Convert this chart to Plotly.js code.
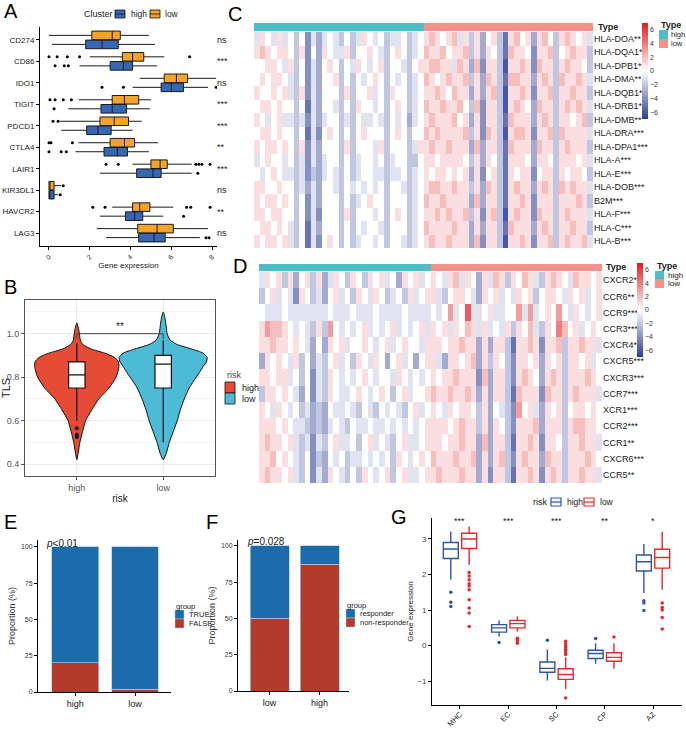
<!DOCTYPE html>
<html><head><meta charset="utf-8">
<script src="https://cdn.plot.ly/plotly-3.0.1.min.js"></script>
<style>html,body{margin:0;padding:0;background:#fff}#chart{width:686px;height:729px}</style>
</head><body><div id="chart"></div><script>
// ---------- Panel A data ----------
const genesA = ['CD274','CD86','IDO1','TIGIT','PDCD1','CTLA4','LAIR1','KIR3DL1','HAVCR2','LAG3'];
const sigA = ['ns','***','ns','***','***','**','***','ns','**','ns'];
const highQ1 = [1.8,3.0,5.5,2.55,1.85,2.7,4.3,0.0,3.75,4.4];
const highMed = [2.6,3.65,6.0,3.1,2.4,3.35,5.1,0.03,4.2,5.15];
const highQ3 = [3.4,4.1,6.6,3.8,3.05,3.85,5.5,0.25,4.6,5.7];
const highLo = [0.15,1.5,4.1,0.95,0.6,1.3,2.5,0.0,2.5,2.8];
const highHi = [5.2,5.3,7.8,4.95,4.1,4.9,7.0,0.45,5.6,7.4];
const highOut = [[],[0.3,0.75,0.95],[2.6,3.65,8.2],[0.25],[],[0.0,0.6,0.85],[7.3],[0.55],[6.6],[7.7,7.85]];
const lowQ1 = [2.1,3.6,5.65,3.1,2.5,3.0,5.0,0.0,4.1,4.35];
const lowMed = [3.1,4.1,6.25,3.7,3.2,3.7,5.45,0.03,4.45,5.3];
const lowQ3 = [3.5,4.65,6.8,4.4,3.9,4.2,5.8,0.25,4.95,6.1];
const lowLo = [0.0,2.0,4.45,1.45,0.55,1.45,4.1,0.0,3.1,2.35];
const lowHi = [4.9,5.65,8.2,5.0,4.55,5.35,7.0,0.6,6.1,7.8];
const lowOut = [[],[0.0,0.4,0.9,1.5,6.9],[],[0.05,0.3,0.7,1.1],[0.2,0.45],[0.0,0.1,1.15],[2.8,3.4,7.2,7.35,7.5,7.9],[0.7],[2.15,2.75,6.75,6.95,7.9],[]];

// ---------- Panel B data ----------
const riskCats = ['high','low'];
const tlsLevelsHigh = [0.42,0.45,0.5,0.55,0.6,0.65,0.7,0.75,0.8,0.84,0.87,0.89,0.91,0.93,0.95,0.97,1.0,1.03,1.05];
const densityHigh = [0,0.03,0.07,0.13,0.2,0.34,0.5,0.73,0.89,0.95,0.95,0.86,0.64,0.32,0.14,0.08,0.06,0.03,0];
const tlsLevelsLow = [0.42,0.45,0.5,0.55,0.6,0.65,0.7,0.75,0.8,0.82,0.85,0.87,0.89,0.91,0.93,0.95,0.97,1.0,1.03,1.06,1.09,1.1];
const densityLow = [0,0.07,0.14,0.23,0.32,0.39,0.48,0.59,0.75,0.82,0.91,0.98,1.0,0.91,0.64,0.32,0.16,0.09,0.07,0.05,0.02,0];
const tlsQ1 = [0.75,0.75];
const tlsMed = [0.81,0.86];
const tlsQ3 = [0.87,0.90];
const tlsLo = [0.6,0.5];
const tlsHi = [0.955,0.97];
const tlsOut = [[0.565,0.535,0.525],[]];

// ---------- Panel C data ----------
const genesC = ['HLA-DOA**','HLA-DQA1**','HLA-DPB1**','HLA-DMA**','HLA-DQB1**','HLA-DRB1**','HLA-DMB**','HLA-DRA***','HLA-DPA1***','HLA-A***','HLA-E***','HLA-DOB***','B2M***','HLA-F***','HLA-C***','HLA-B***'];
const cHigh = [
[-1,1,0,-1,1,-1,0,-2,0,-4,-1,-3,-1,0,-1,-2,0,-2,-1,1,0,-1,0,-2,-1,-1,0,-2,-1,0],
[1,2,1,0,1,1,0,-2,1,-4,0,-3,1,0,-1,-1,1,-2,0,0,1,0,-1,-2,0,1,0,-2,-1,0],
[0,0,1,1,0,-1,1,-2,0,-4,-1,-3,0,1,0,-2,0,-1,1,0,-1,0,1,-2,0,0,-1,-2,0,1],
[0,1,0,1,1,0,-1,-2,0,-4,-1,-3,0,0,1,-2,0,-2,0,-1,0,1,0,-2,0,-1,0,-2,-1,0],
[1,0,0,1,0,1,-1,-2,1,-4,-1,-3,0,0,0,-2,1,-2,0,0,1,-1,0,-2,1,0,0,-2,-1,0],
[0,1,1,0,1,0,0,-2,0,-5,-1,-3,0,0,-1,-2,0,-2,1,0,0,-1,0,-2,0,1,0,-2,-1,0],
[1,0,-1,0,1,-1,-1,-2,-1,-4,-1,-3,-1,0,0,-2,-1,-2,0,-1,-1,0,-1,-2,0,-1,0,-3,-1,0],
[0,1,1,0,1,0,0,-2,0,-5,-1,-4,0,1,0,-2,0,-2,0,1,0,0,0,-2,0,1,0,-2,0,0],
[1,0,1,1,0,1,0,-2,1,-4,-1,-3,0,0,0,-2,1,-2,0,0,0,-1,1,-2,0,0,0,-2,-1,1],
[-1,0,1,0,0,-1,0,-2,-1,-4,-1,-3,-1,0,0,-2,0,-2,-1,0,0,-1,0,-2,-1,0,0,-2,-2,0],
[0,-1,0,1,0,-1,-1,-2,-1,-4,-2,-3,-1,0,-1,-2,0,-2,-1,0,0,-1,-1,-2,-1,-1,0,-2,-1,0],
[1,1,0,0,1,0,0,-2,-1,-3,-1,-3,0,0,-1,-2,0,-1,0,-1,0,-1,0,-2,0,0,-1,-2,-1,0],
[1,0,1,1,0,1,0,-2,0,-4,-1,-3,0,0,0,-2,0,-2,-1,0,1,0,0,-2,0,0,0,-2,-1,0],
[1,1,0,1,1,0,0,-2,0,-4,-1,-4,0,0,0,-2,1,-2,0,0,0,-1,0,-2,0,1,0,-2,-1,0],
[0,1,1,0,1,0,-1,-2,0,-5,-1,-3,0,0,0,-2,0,-2,0,-1,0,0,-1,-2,0,0,0,-2,-1,0],
[1,0,1,1,0,1,-1,-2,0,-5,-1,-4,0,1,0,-2,0,-2,-1,0,0,-1,0,-2,0,0,-1,-2,-1,0]
];
const cLow = [
[1,2,1,0,1,2,-1,1,-2,1,-3,0,1,-2,-5,1,2,0,1,-3,1,2,0,-2,1,2,1,0,1,-1],
[2,1,1,2,0,1,1,2,-2,1,-3,1,0,-2,-5,2,1,1,0,-4,1,1,2,-2,0,1,2,1,1,-2],
[1,2,2,1,1,-1,2,1,-3,2,-4,1,1,-2,-6,1,1,2,1,-4,2,1,1,-2,1,2,1,1,0,-2],
[2,1,0,1,2,1,1,2,-2,1,-3,2,1,-2,-5,2,2,1,1,-3,1,2,1,-2,2,1,1,2,1,-1],
[1,1,2,1,0,2,1,1,-3,1,-3,1,2,-2,-6,1,1,2,1,-4,1,1,2,-2,1,1,2,1,1,-2],
[2,1,1,2,1,1,2,0,-2,2,-4,1,1,-2,-6,1,2,1,0,-3,2,1,1,-2,1,2,1,2,1,-1],
[1,2,1,1,1,2,0,1,-3,1,-4,1,1,-2,-5,2,1,1,1,-3,1,2,1,-2,1,1,0,1,2,-2],
[2,1,2,1,1,1,1,2,-2,1,-4,2,1,-2,-6,1,2,2,1,-4,1,1,2,-2,2,1,1,1,1,-1],
[1,2,1,1,2,1,1,1,-3,2,-3,1,1,-2,-5,2,1,1,1,-3,2,1,1,-2,1,2,1,1,1,-2],
[1,1,0,1,1,1,1,0,-2,1,-3,1,0,-2,-5,1,1,1,0,-3,1,1,0,-2,1,1,1,0,1,-1],
[1,0,1,1,0,1,0,1,-3,1,-4,0,1,-2,-5,1,0,1,1,-4,0,1,1,-2,1,0,1,1,0,-2],
[1,2,2,1,1,2,1,1,-2,1,-3,2,1,-2,-5,1,2,1,1,-3,1,2,1,-2,2,1,2,1,1,-1],
[2,1,1,2,1,1,1,1,-3,2,-3,1,1,-2,-5,1,1,2,1,-4,1,1,1,-2,1,1,1,2,1,-2],
[1,1,2,1,2,1,1,2,-2,1,-4,1,2,-2,-6,1,2,1,1,-4,2,1,1,-2,1,2,1,1,1,-1],
[2,1,1,1,1,2,1,1,-3,1,-3,1,1,-2,-5,2,1,1,1,-3,1,2,1,-2,1,1,2,1,1,-2],
[1,2,1,1,2,1,1,1,-3,2,-4,1,1,-2,-6,1,1,2,1,-4,1,1,2,-2,1,2,1,1,2,-1]
];

// ---------- Panel D data ----------
const genesD = ['CXCR2**','CCR6**','CCR9***','CCR3***','CXCR4*','CXCR5***','CXCR3***','CCR7***','XCR1***','CCR2***','CCR1**','CXCR6***','CCR5**'];
const dHigh = [
[-1,1,0,1,-2,1,-3,0,1,-2,1,-3,-1,1,0,-2,1,0,-2,1,0,1,-1,0,-3,1,0,1,-1,0],
[-2,0,1,-1,0,-1,-4,1,0,-2,-1,-3,0,1,-1,0,-2,1,0,-1,1,0,-2,-1,0,-2,1,-1,0,1],
[0,-1,-1,-1,0,-1,-1,-1,-1,-1,-1,-1,0,-1,-1,-1,0,-1,-1,-1,0,-1,-1,-1,-1,0,-1,-1,-1,-1],
[1,3,2,2,1,0,-1,0,-1,-2,1,-2,3,0,-1,0,-1,0,1,-1,0,-1,0,1,-1,0,-1,0,1,-1],
[1,1,2,1,1,0,1,0,-1,-3,0,-3,1,0,1,-1,0,0,1,0,-1,0,1,-1,0,1,0,0,-1,1],
[-3,1,0,1,0,-1,1,-2,0,-3,-1,-2,0,1,-1,0,-2,1,0,-1,1,0,-3,0,1,-1,0,-3,0,1],
[1,1,0,1,1,-1,0,-2,0,-4,-1,-2,1,0,-1,0,-1,0,1,0,-1,0,0,-1,1,0,-1,0,-1,0],
[-2,1,1,0,1,0,-1,-3,0,-4,-1,-2,1,0,-1,-1,0,1,0,-1,0,1,0,-2,0,1,-1,0,0,1],
[1,0,-1,1,0,-1,0,-2,-1,-3,-2,-3,0,-1,-1,0,-1,-2,0,-1,-2,0,-1,0,-1,-2,0,1,-1,0],
[1,1,1,0,1,0,-1,-1,-2,-3,-2,-3,-1,0,-1,-2,0,-1,-1,0,-1,-1,0,-1,0,-1,0,-1,0,1],
[1,2,1,1,0,1,-1,-2,-1,-4,-1,-2,0,1,-1,-1,0,-2,0,1,-1,0,-1,-2,0,1,-1,-1,0,1],
[1,1,2,0,1,0,-1,-2,0,-4,-2,-3,0,-1,0,-2,-1,-1,0,-1,0,-1,0,-2,1,0,-1,0,1,0],
[1,2,1,1,0,1,-1,-2,0,-4,-1,-3,1,0,-1,-2,0,-2,1,0,-1,0,1,-2,0,1,-1,-1,0,1]
];
const dLow = [
[1,0,-1,1,2,-1,1,0,-3,1,-1,2,1,-2,1,0,2,1,-1,-2,1,2,1,0,-1,2,1,1,0,1],
[1,-1,-2,0,1,1,0,-1,-3,1,0,1,-1,0,-1,1,0,1,-2,0,1,1,0,-1,1,0,1,-1,0,1],
[0,-1,0,3,-1,0,5,-1,-1,0,1,-1,-1,0,0,3,-1,3,-1,0,1,0,3,0,-1,1,0,-1,0,1],
[1,0,1,-1,1,0,2,1,-1,1,-1,0,-1,1,-2,1,0,2,-1,-2,1,0,4,2,0,1,-1,0,1,0],
[1,1,0,1,1,2,1,1,-3,1,-3,1,1,-2,-5,1,1,2,1,-4,1,1,2,-2,1,1,2,1,1,-1],
[1,-1,-3,1,1,0,1,2,-3,1,-2,1,0,-2,-4,1,1,0,1,-3,1,0,1,-2,1,1,0,1,-1,0],
[1,0,1,1,2,1,1,1,-4,2,-3,1,1,-2,-4,1,2,1,0,-3,1,2,1,-2,1,1,1,2,1,0],
[2,1,1,2,1,1,2,1,-3,1,-3,1,1,-2,-5,2,1,1,1,-4,2,1,1,-2,1,2,1,1,1,-1],
[1,0,-1,1,0,1,1,0,-2,1,-3,0,-1,-2,-4,3,0,1,-1,-3,1,0,1,-2,0,1,1,0,1,0],
[1,1,1,0,1,2,1,1,-2,1,-3,1,0,-2,-4,1,1,1,2,-3,1,1,1,-2,1,2,2,1,1,0],
[1,1,0,1,1,2,1,1,-3,2,-3,1,1,-2,-5,1,1,2,1,-4,1,1,0,-2,1,1,2,1,1,-1],
[2,1,1,1,2,1,1,2,-3,1,-3,1,2,-2,-4,1,2,1,1,-3,2,1,1,-2,1,1,1,2,1,0],
[1,2,1,1,1,2,1,1,-3,1,-4,1,1,-2,-5,1,1,2,1,-4,1,2,1,-2,1,1,2,1,1,-1]
];
const nHigh = 30, nLow = 30;

// ---------- Panel E / F data ----------
const catsE = ['high','low'];
const falseE = [20,2];
const trueE = [80,98];
const catsF = ['low','high'];
const nonRespF = [50,87.5];
const respF = [50,12.5];

// ---------- Panel G data ----------
const catsG = ['MHC','EC','SC','CP','AZ'];
const sigG = ['***','***','***','**','*'];
const gHighQ1 = [2.45,0.38,-0.75,-0.36,2.1];
const gHighMed = [2.72,0.5,-0.64,-0.22,2.36];
const gHighQ3 = [2.9,0.59,-0.46,-0.13,2.55];
const gHighLo = [1.85,0.26,-0.98,-0.51,1.48];
const gHighHi = [3.2,0.71,-0.11,0.07,2.86];
const gHighOut = [[1.5,1.22,1.1],[0.09],[0.15],[0.2],[1.26,1.2,0.99]];
const gLowQ1 = [2.73,0.5,-0.95,-0.44,2.18];
const gLowMed = [3.0,0.62,-0.81,-0.33,2.48];
const gLowQ3 = [3.16,0.71,-0.65,-0.2,2.71];
const gLowLo = [2.27,0.4,-1.23,-0.65,1.57];
const gLowHi = [3.35,0.82,-0.33,0.07,3.2];
const gLowOut = [[2.06,1.96,1.85,1.74,1.68,1.57,1.29,1.06,0.92,0.54],[0.21,0.17,0.13,0.1,0.07],[0.12,0.05,0.0,-0.05,-0.1,-0.15,-0.2,-0.25,-1.47],[0.24],[1.2,1.07,1.0,0.79,0.47]];

// ---------- helpers ----------
const W = 686, H = 729;
const X = p => p / W, Y = p => 1 - p / H;
const FONT = 'Liberation Sans, Arial, Helvetica, sans-serif';
const C_HIGH_A = '#3567B2', C_LOW_A = '#F2A32A';
const C_RED_V = '#E64B35', C_BLUE_V = '#4DBBD5';
const C_TEAL = '#4DBEC5', C_SALMON = '#F3918A';
const C_BAR_BLUE = '#1C6BAA', C_BAR_RED = '#B23B2C';
const C_G_HIGH = '#2E56A6', C_G_LOW = '#E42A2F';
const heatScale = [[0,'#2A3C95'],[0.5,'#FFFFFF'],[1,'#E41A1C']];

function flatOut(list, pos) {
  const v = [], p = [];
  list.forEach((a, i) => a.forEach(val => { v.push(val); p.push(pos[i]); }));
  return {v: v, p: p};
}
const traces = [];

// ---------- A ----------
const posHighA = genesA.map((g, i) => i + 0.21);
const posLowA = genesA.map((g, i) => i - 0.21);
function hbox(pos, q1, med, q3, lo, hi, fill) {
  return {type:'box', orientation:'h', y:pos, q1:q1, median:med, q3:q3, lowerfence:lo, upperfence:hi,
    width:0.4, whiskerwidth:0, fillcolor:fill, line:{color:'#1a1a1a', width:1},
    xaxis:'x', yaxis:'y', showlegend:false, hoverinfo:'skip'};
}
traces.push(hbox(posHighA, highQ1, highMed, highQ3, highLo, highHi, C_HIGH_A));
traces.push(hbox(posLowA, lowQ1, lowMed, lowQ3, lowLo, lowHi, C_LOW_A));
[[highOut, posHighA], [lowOut, posLowA]].forEach(([o, p]) => {
  const f = flatOut(o, p);
  traces.push({type:'scatter', mode:'markers', x:f.v, y:f.p, marker:{color:'#000', size:3}, xaxis:'x', yaxis:'y', showlegend:false, hoverinfo:'skip'});
});

// ---------- B ----------
const VW = 0.51;
function violin(levels, dens, center, color) {
  const xs = [], ys = [];
  levels.forEach((l, i) => { xs.push(center + dens[i] * VW); ys.push(l); });
  for (let i = levels.length - 1; i >= 0; i--) { xs.push(center - dens[i] * VW); ys.push(levels[i]); }
  return {type:'scatter', mode:'lines', x:xs, y:ys, fill:'toself', fillcolor:color,
    line:{color:'#111', width:1, shape:'spline', smoothing:0.6}, xaxis:'x2', yaxis:'y2', showlegend:false, hoverinfo:'skip'};
}
traces.push(violin(tlsLevelsHigh, densityHigh, 1, C_RED_V));
traces.push(violin(tlsLevelsLow, densityLow, 2, C_BLUE_V));
traces.push({type:'box', x:[1,2], q1:tlsQ1, median:tlsMed, q3:tlsQ3, lowerfence:tlsLo, upperfence:tlsHi,
  width:0.19, whiskerwidth:0, fillcolor:'#FFFFFF', line:{color:'#111', width:1.2}, xaxis:'x10', yaxis:'y10', showlegend:false, hoverinfo:'skip'});
(function(){ const f = flatOut(tlsOut, [1,2]);
  traces.push({type:'scatter', mode:'markers', x:f.p, y:f.v, marker:{color:'#111', size:4}, xaxis:'x10', yaxis:'y10', showlegend:false, hoverinfo:'skip'}); })();

// ---------- C / D heatmaps ----------
const typeRow = Array(nHigh).fill(0).concat(Array(nLow).fill(1));
const cols = typeRow.map((t, i) => i);
const typeScale = [[0,C_TEAL],[0.5,C_TEAL],[0.5,C_SALMON],[1,C_SALMON]];
function heat(rowsHigh, rowsLow, labels, xa, ya, cbx, cby, cblen) {
  return {type:'heatmap', z:rowsHigh.map((r, i) => r.concat(rowsLow[i])), x:cols, y:labels,
    colorscale:heatScale, zmin:-7, zmax:7, xaxis:xa, yaxis:ya, hoverinfo:'skip',
    colorbar:{x:X(cbx), xanchor:'left', y:Y(cby), yanchor:'top', len:cblen, lenmode:'pixels', thickness:6, thicknessmode:'pixels',
      xpad:0, ypad:0, outlinewidth:0, tickvals:[-6,-4,-2,0,2,4,6], ticks:'', tickfont:{size:7, color:'#333'}}};
}
function typeBar(xa, ya) {
  return {type:'heatmap', z:[typeRow], x:cols, y:['Type'], colorscale:typeScale, zmin:0, zmax:1, showscale:false, xaxis:xa, yaxis:ya, hoverinfo:'skip'};
}
traces.push(typeBar('x3','y3'));
traces.push(heat(cHigh, cLow, genesC, 'x4', 'y4', 642, 23, 96));
traces.push(typeBar('x5','y5'));
traces.push(heat(dHigh, dLow, genesD, 'x6', 'y6', 637, 263, 94));

// ---------- E / F bars ----------
const barLine = {color:'#A9CCE8', width:0.7};
traces.push({type:'bar', x:catsE, y:falseE, width:0.78, marker:{color:C_BAR_RED, line:barLine}, xaxis:'x7', yaxis:'y7', showlegend:false, hoverinfo:'skip'});
traces.push({type:'bar', x:catsE, y:trueE, width:0.78, marker:{color:C_BAR_BLUE, line:barLine}, xaxis:'x7', yaxis:'y7', showlegend:false, hoverinfo:'skip'});
traces.push({type:'bar', x:catsF, y:nonRespF, width:0.78, marker:{color:C_BAR_RED, line:barLine}, xaxis:'x8', yaxis:'y8', showlegend:false, hoverinfo:'skip'});
traces.push({type:'bar', x:catsF, y:respF, width:0.78, marker:{color:C_BAR_BLUE, line:barLine}, xaxis:'x8', yaxis:'y8', showlegend:false, hoverinfo:'skip'});

// ---------- G ----------
const posHighG = catsG.map((c, i) => i - 0.19);
const posLowG = catsG.map((c, i) => i + 0.19);
function vbox(pos, q1, med, q3, lo, hi, color) {
  return {type:'box', x:pos, q1:q1, median:med, q3:q3, lowerfence:lo, upperfence:hi, width:0.31, whiskerwidth:0,
    fillcolor:'rgba(255,255,255,0)', line:{color:color, width:1.4}, xaxis:'x9', yaxis:'y9', showlegend:false, hoverinfo:'skip'};
}
traces.push(vbox(posHighG, gHighQ1, gHighMed, gHighQ3, gHighLo, gHighHi, C_G_HIGH));
traces.push(vbox(posLowG, gLowQ1, gLowMed, gLowQ3, gLowLo, gLowHi, C_G_LOW));
[[gHighOut, posHighG, C_G_HIGH], [gLowOut, posLowG, C_G_LOW]].forEach(([o, p, c]) => {
  const f = flatOut(o, p);
  traces.push({type:'scatter', mode:'markers', x:f.p, y:f.v, marker:{color:c, size:3.5}, xaxis:'x9', yaxis:'y9', showlegend:false, hoverinfo:'skip'});
});

// ---------- layout ----------
function ax(o) {
  return Object.assign({showgrid:false, zeroline:false, showline:true, linecolor:'#000', linewidth:1, ticks:'outside',
    ticklen:3, tickwidth:1, tickcolor:'#000', tickfont:{size:8, color:'#333'}}, o);
}
function T(x, y, text, size, opt) {
  return Object.assign({xref:'paper', yref:'paper', x:X(x), y:Y(y), text:text, showarrow:false, xanchor:'left', yanchor:'middle',
    font:{size:size, color:'#222', family:FONT}}, opt || {});
}
function R(x0, y0, x1, y1, fill, line, lw) {
  return {type:'rect', xref:'paper', yref:'paper', x0:X(x0), x1:X(x1), y0:Y(y1), y1:Y(y0), fillcolor:fill, line:{color:line, width:lw}};
}
function L(x0, y0, x1, y1, color, lw) {
  return {type:'line', xref:'paper', yref:'paper', x0:X(x0), x1:X(x1), y0:Y(y0), y1:Y(y1), line:{color:color, width:lw}};
}
const big = {size:20, color:'#000', family:FONT};
const annotations = [
  T(2,11,'A',20,{font:big}), T(2,287,'B',20,{font:big}), T(226,14,'C',20,{font:big}), T(231,266,'D',20,{font:big}),
  T(2,522,'E',20,{font:big}), T(204,522,'F',20,{font:big}), T(389,517,'G',20,{font:big}),
  // A legend
  T(82,14,'Cluster',9), T(129,14,'high',8.5), T(163,14,'low',8.5),
  // B legend
  T(225,375,'risk',9,{font:{size:9,color:'#444',family:FONT}}), T(240,388,'high',9), T(240,399,'low',9),
  {xref:'x2', yref:'y2', x:1.5, y:1.035, text:'**', showarrow:false, font:{size:10,color:'#222',family:FONT}},
  // C / D labels
  T(596,27,'<b>Type</b>',9), T(659,25,'<b>Type</b>',9), T(669,34.5,'high',7.5), T(669,43.5,'low',7.5),
  T(604,267,'<b>Type</b>',9), T(655,266,'<b>Type</b>',9), T(666,275,'high',8), T(666,284,'low',8),
  // E / F
  T(44,543,'<i>p</i>&lt;0.01',10), T(245,541,'<i>p</i>=0.028',10),
  T(174,606,'group',7.5), T(187,614.5,'TRUE',7.5), T(187,623.5,'FALSE',7.5),
  T(345,605,'group',7.5), T(358,613.5,'responder',7.5), T(358,622.5,'non-responder',7.5),
  // G legend
  T(531,502,'risk',9), T(565,502,'high',8.5), T(598,502,'low',8.5)
];
genesA.forEach((g, i) => annotations.push({xref:'paper', yref:'y', x:X(215), y:i, text:sigA[i], showarrow:false, xanchor:'left', yanchor:'middle', font:{size:9,color:'#222',family:FONT}}));
catsG.forEach((c, i) => annotations.push({xref:'x9', yref:'y9', x:i, y:3.5, text:sigG[i], showarrow:false, font:{size:9,color:'#222',family:FONT}}));

const shapes = [
  R(115,10,125,18,C_HIGH_A,'#111',0.8), L(115,14,125,14,'#111',0.8),
  R(150,10,160,18,C_LOW_A,'#111',0.8), L(150,14,160,14,'#111',0.8),
  R(225,382,235,393,C_RED_V,'#111',0.8), R(225,393,235,404,C_BLUE_V,'#111',0.8),
  {type:'line', xref:'x2', yref:'y2', x0:1, x1:2, y0:1.0, y1:1.0, line:{color:'#444', width:1}},
  {type:'line', xref:'x2', yref:'y2', x0:2, x1:2, y0:1.0, y1:0.975, line:{color:'#444', width:1}},
  {type:'line', xref:'x2', yref:'y2', x0:1, x1:1, y0:1.0, y1:0.975, line:{color:'#444', width:1}},
  R(659,30,668,39,C_TEAL,C_TEAL,0), R(659,39,668,48,C_SALMON,C_SALMON,0),
  R(655,271,664,279,C_TEAL,C_TEAL,0), R(655,279,664,288,C_SALMON,C_SALMON,0),
  R(175,610,184,619,C_BAR_BLUE,'#A9CCE8',0.5), R(175,619,184,628,C_BAR_RED,'#A9CCE8',0.5),
  R(346,609,355,618,C_BAR_BLUE,'#A9CCE8',0.5), R(346,618,355,627,C_BAR_RED,'#A9CCE8',0.5),
  R(551,498,561,506,'rgba(255,255,255,0)',C_G_HIGH,1.2), L(551,502,561,502,C_G_HIGH,1.2),
  R(584,498,594,506,'rgba(255,255,255,0)',C_G_LOW,1.2), L(584,502,594,502,C_G_LOW,1.2)
];

const layout = {
  width:W, height:H, margin:{l:0, r:0, t:0, b:0}, paper_bgcolor:'#fff', plot_bgcolor:'rgba(0,0,0,0)',
  font:{family:FONT, size:9, color:'#222'}, showlegend:false, hovermode:false, boxmode:'overlay', barmode:'stack',
  annotations:annotations, shapes:shapes,
  xaxis: ax({domain:[X(40),X(217)], range:[-0.44,8.24], anchor:'y', tickvals:[0,2,4,6,8], tickangle:-45,
    tickfont:{size:7,color:'#333'}, title:{text:'Gene expression', font:{size:8,color:'#222'}, standoff:1}}),
  yaxis: ax({domain:[Y(246),Y(27)], range:[9.6,-0.6], anchor:'x', tickvals:genesA.map((g,i)=>i), ticktext:genesA, tickfont:{size:8,color:'#222'}}),
  xaxis2: ax({domain:[X(25),X(215)], range:[0.4,2.6], anchor:'y2', tickvals:[1,2], ticktext:riskCats, showgrid:true, gridcolor:'#EBEBEB',
    mirror:true, linecolor:'#555', tickcolor:'#555', tickfont:{size:9,color:'#555'}, title:{text:'risk', font:{size:10,color:'#222'}, standoff:3}}),
  yaxis2: ax({domain:[Y(476),Y(300)], range:[0.345,1.155], anchor:'x2', tickvals:[0.4,0.6,0.8,1.0], tickformat:'.1f', showgrid:true, gridcolor:'#EBEBEB',
    minor:{tickvals:[0.5,0.7,0.9,1.1], showgrid:true, gridcolor:'#F4F4F4', ticks:''},
    mirror:true, linecolor:'#555', tickcolor:'#555', tickfont:{size:9,color:'#555'}, title:{text:'TLS', font:{size:11,color:'#222'}, standoff:4}}),
  xaxis10: {overlaying:'x2', range:[0.4,2.6], visible:false, anchor:'y10'},
  yaxis10: {overlaying:'y2', range:[0.345,1.155], visible:false, anchor:'x10'},
  xaxis3: {domain:[X(254),X(593)], range:[-0.5,59.5], anchor:'y3', visible:false},
  yaxis3: {domain:[Y(31),Y(23)], anchor:'x3', visible:false},
  xaxis4: {domain:[X(254),X(593)], range:[-0.5,59.5], anchor:'y4', visible:false},
  yaxis4: {domain:[Y(248),Y(32)], anchor:'x4', side:'right', autorange:'reversed', showline:false, ticks:'', showgrid:false, zeroline:false, tickfont:{size:9,color:'#222'}},
  xaxis5: {domain:[X(259),X(602)], range:[-0.5,59.5], anchor:'y5', visible:false},
  yaxis5: {domain:[Y(271),Y(264)], anchor:'x5', visible:false},
  xaxis6: {domain:[X(259),X(602)], range:[-0.5,59.5], anchor:'y6', visible:false},
  yaxis6: {domain:[Y(483),Y(272)], anchor:'x6', side:'right', autorange:'reversed', showline:false, ticks:'', showgrid:false, zeroline:false, tickfont:{size:9,color:'#222'}},
  xaxis7: ax({domain:[X(38),X(171)], range:[-0.62,1.6], anchor:'y7', type:'category', tickfont:{size:9,color:'#222'}}),
  yaxis7: ax({domain:[Y(692),Y(540)], range:[0,104.8], anchor:'x7', tickvals:[0,25,50,75,100], tickfont:{size:7,color:'#333'},
    title:{text:'Proportion (%)', font:{size:9,color:'#333'}, standoff:3}}),
  xaxis8: ax({domain:[X(238),X(349)], range:[-0.63,1.59], anchor:'y8', type:'category', tickfont:{size:9,color:'#222'}}),
  yaxis8: ax({domain:[Y(691),Y(540)], range:[0,104.1], anchor:'x8', tickvals:[0,25,50,75,100], tickfont:{size:7,color:'#333'},
    title:{text:'Proportion (%)', font:{size:9,color:'#333'}, standoff:3}}),
  xaxis9: ax({domain:[X(432),X(682)], range:[-0.58,4.6], anchor:'y9', tickvals:[0,1,2,3,4], ticktext:catsG, tickangle:-45,
    ticklabelstandoff:-2, tickfont:{size:7.5,color:'#222'}}),
  yaxis9: ax({domain:[Y(705),Y(518)], range:[-1.67,3.59], anchor:'x9', tickvals:[-1,0,1,2,3], tickfont:{size:8,color:'#444'},
    title:{text:'Gene expression', font:{size:8,color:'#222'}, standoff:2}})
};

Plotly.newPlot('chart', traces, layout, {staticPlot:true, displayModeBar:false});
</script></body></html>
